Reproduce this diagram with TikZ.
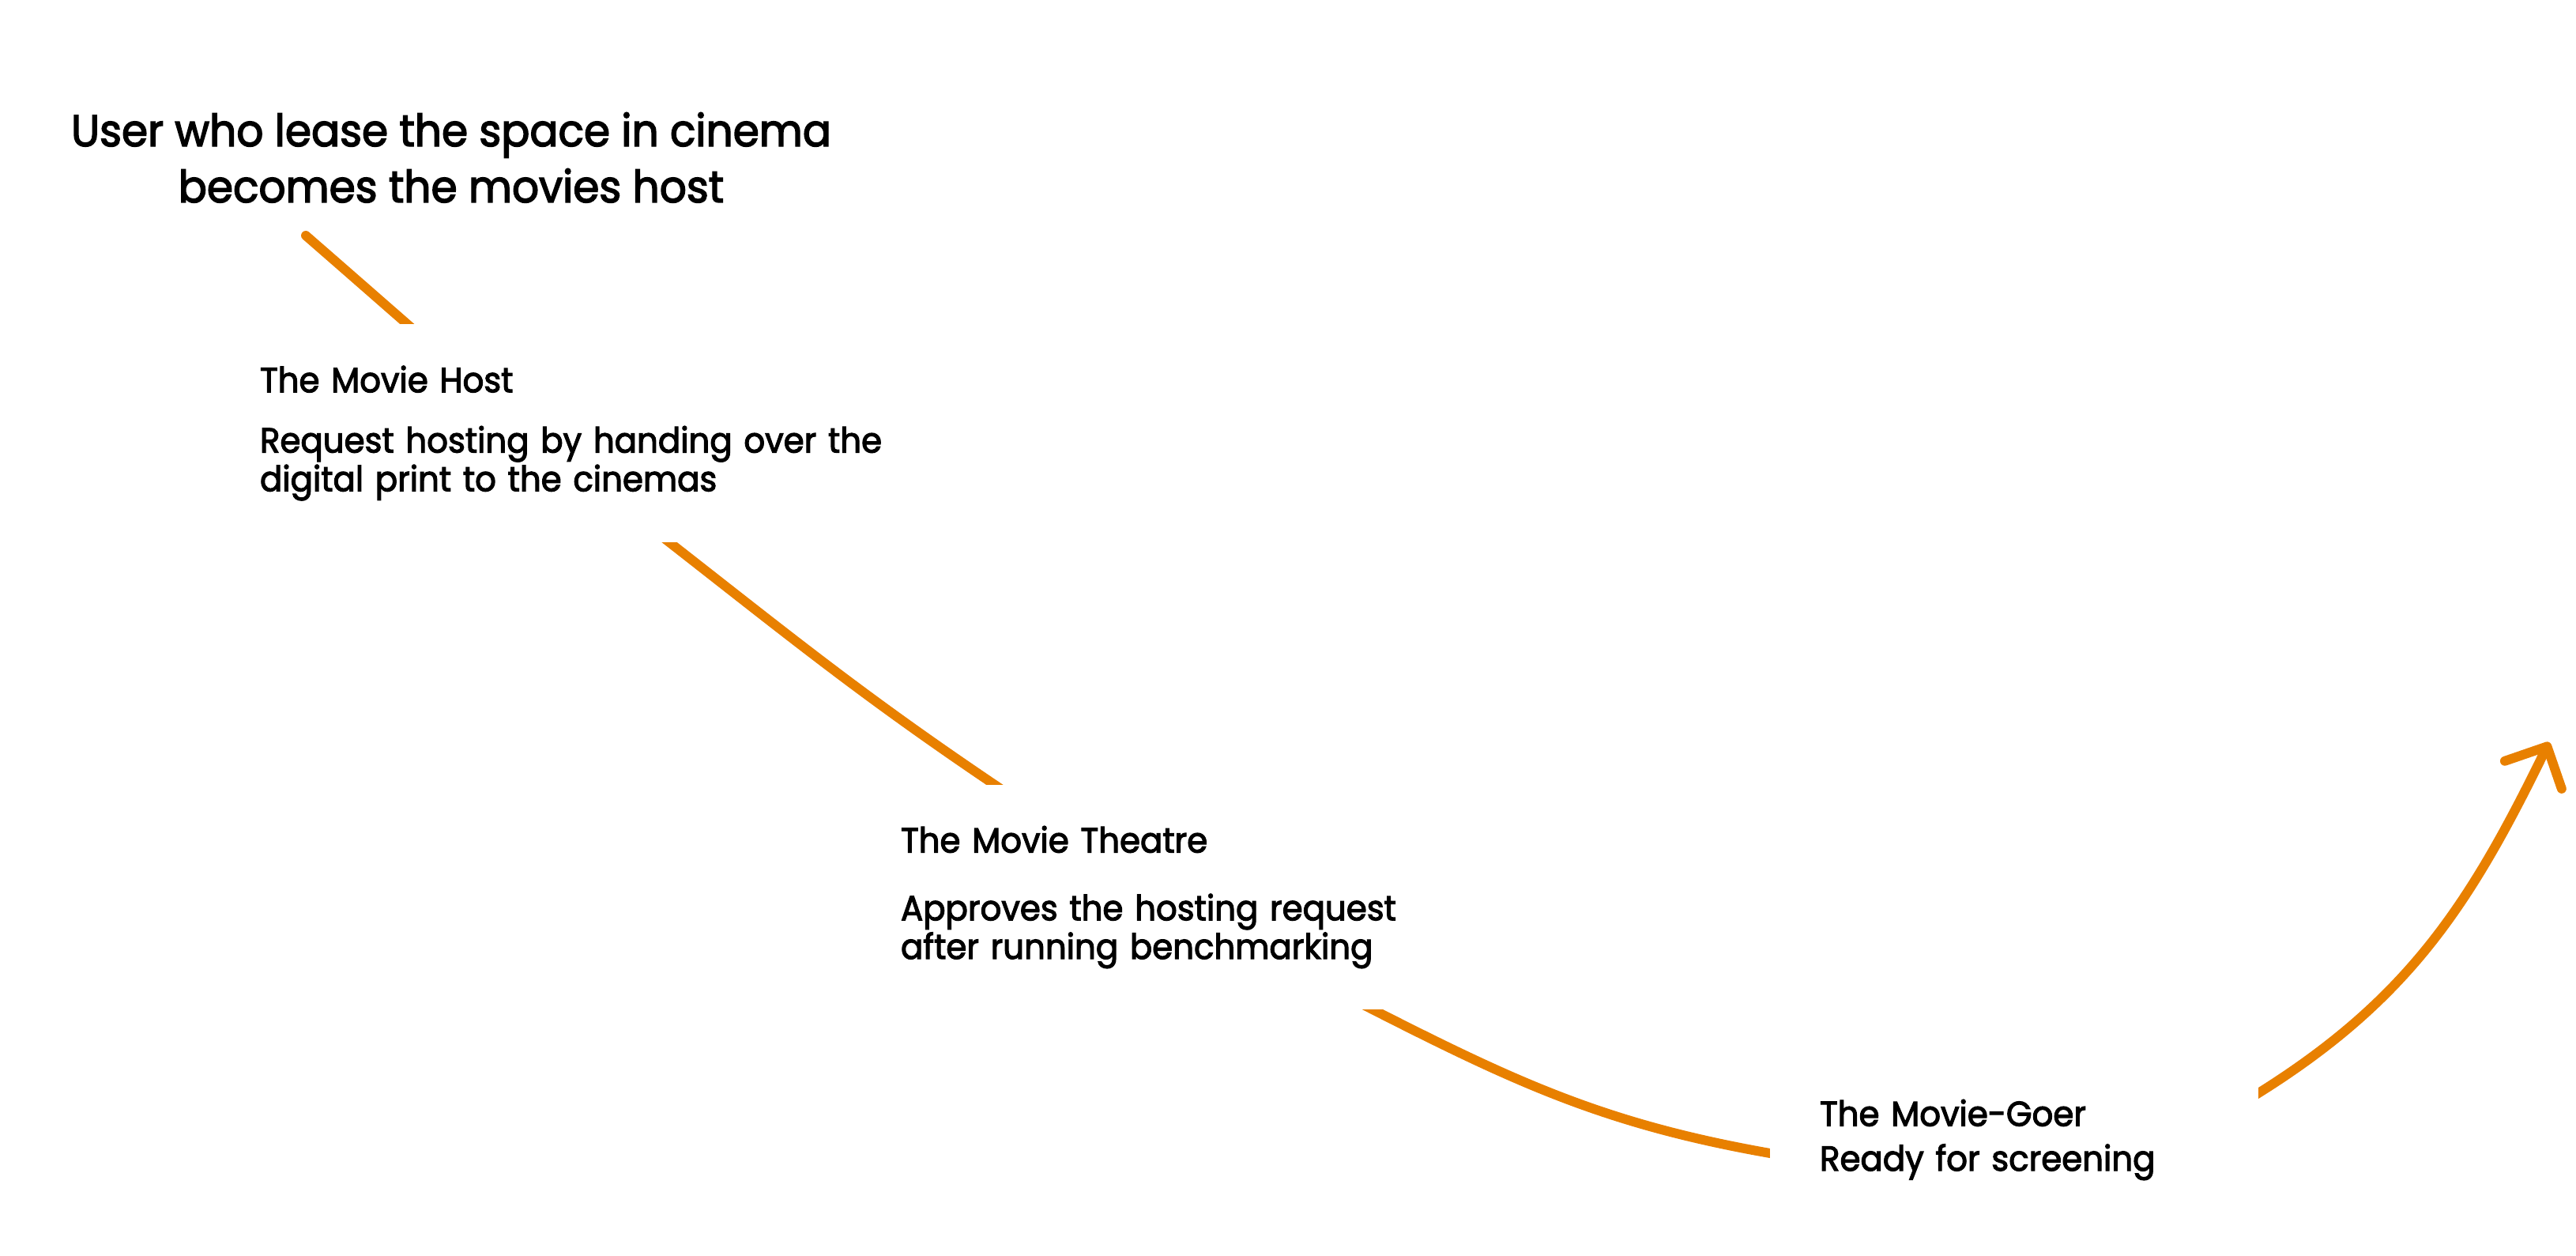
\documentclass[tikz,border=0pt]{standalone}
\usepackage{fontspec}
\setmainfont{Poppins}[FakeStretch=0.95, FakeBold=2.6]
\usetikzlibrary{arrows.meta,backgrounds}
\definecolor{pathorange}{RGB}{232,128,0}

\begin{document}
\begin{tikzpicture}[
    stage/.style={rectangle, fill=white, align=left, inner xsep=0.6cm, inner ysep=0pt,
                  font=\fontsize{12.55pt}{13.9pt}\selectfont},
    journey/.style={line width=3.4pt, draw=pathorange, line cap=round,
                    -{Straight Barb[length=4mm, width=8mm, round]}}
]
    \useasboundingbox (0,0) rectangle (32.6,-15.88);

    \node[align=center, font=\fontsize{16pt}{20.2pt}\selectfont, anchor=base] (lease) at (5.71,-2.56)
        {User who lease the space in cinema\\becomes the movies host};

    \node[stage, text width=8.1cm, minimum height=2.76cm] (host) at (7.34,-5.48)
        {The Movie Host\\[7.8pt]Request hosting by handing over the\\digital print to the cinemas};
    \node[stage, text width=6.5cm, minimum height=2.84cm] (theatre) at (14.65,-11.35)
        {The Movie Theatre\\[10.5pt]Approves the hosting request\\after running benchmarking};
    \node[stage, inner xsep=0.63cm, text width=4.92cm, minimum height=2.2cm] (goer) at (25.49,-14.42)
        {The Movie-Goer\\[2.2pt]Ready for screening};

    \coordinate (start) at (3.87,-2.98);
    \coordinate (tip) at (32.26,-9.39);

    \begin{scope}[on background layer]
        \draw[journey] (start) to[out=-41, in=142] (8.47,-6.86) to[out=-38, in=146] (12.59,-9.93)
            to[out=-34, in=153] (17.27,-12.72) to[out=-27, in=170] (22.40,-14.59)
            to[out=-10, in=-148] (28.58,-13.83) to[out=32, in=-116] (tip);
    \end{scope}
\end{tikzpicture}
\end{document}
